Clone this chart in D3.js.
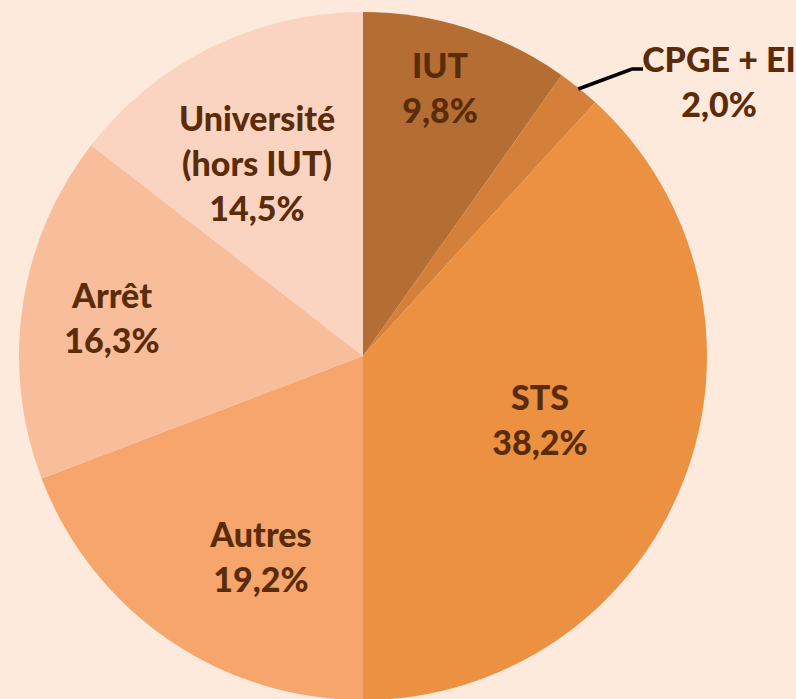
<!DOCTYPE html>
<html><head><meta charset="utf-8">
<script src="https://cdn.jsdelivr.net/npm/d3@7"></script>
<style>html,body{margin:0;padding:0;background:#FDEADC;overflow:hidden}</style>
</head><body>
<svg id="c" width="796" height="699"></svg>
<script>
const categories = ["IUT", "CPGE + EI", "STS", "Autres", "Arrêt", "Université\n(hors IUT)"];
const values = [9.8, 2.0, 38.2, 19.2, 16.3, 14.5];
const valueLabels = ["9,8%", "2,0%", "38,2%", "19,2%", "16,3%", "14,5%"];
const colors = ["#B46D32", "#D4803B", "#EC9142", "#F6A66C", "#F8BD9A", "#FAD4C0"];

const W = 796, H = 699, cx = 363, cy = 356, R = 344;
// label block centre offsets from pie centre (layout)
const labelPos = [[77, -268], [356, -274], [177, 64], [-102, 201], [-251, -38], [-106, -192]];

const svg = d3.select("#c");
svg.append("rect").attr("width", W).attr("height", H).attr("fill", "#FDEADC");
const g = svg.append("g").attr("transform", `translate(${cx},${cy})`);
const data = categories.map((c, i) => ({c, v: values[i], lab: valueLabels[i], col: colors[i], i}));
const pie = d3.pie().value(d => d.v).sort(null);
const arcs = pie(data);
const arc = d3.arc().innerRadius(0).outerRadius(R);
g.selectAll("path.s").data(arcs).join("path").attr("class", "s")
  .attr("d", arc).attr("fill", d => d.data.col);

const font = "Lato, 'Open Sans', sans-serif";
const lh = 45;
arcs.forEach((a, i) => {
  const mid = (a.startAngle + a.endAngle) / 2;
  const lines = a.data.c.split("\n").concat([a.data.lab]);
  const [x, y] = labelPos[i];
  if (i === 1) {
    const p0 = [Math.sin(mid) * (R - 1), -Math.cos(mid) * (R - 1)];
    const p1 = [x - 87, y - 13];
    const p2 = [x - 76, y - 13];
    g.append("polyline").attr("points", [p0, p1, p2].map(p => p.join(",")).join(" "))
      .attr("fill", "none").attr("stroke", "#000").attr("stroke-width", 3.5);
  }
  const t = g.append("text").attr("text-anchor", "middle")
    .attr("font-family", font).attr("font-weight", 900).attr("font-size", 34)
    .attr("fill", "#5A2C0A");
  const y0 = y - (lines.length - 1) * lh / 2;
  lines.forEach((l, k) => {
    t.append("tspan").attr("x", x).attr("y", y0 + k * lh).attr("dy", "0.36em").text(l);
  });
});
</script>
</body></html>
